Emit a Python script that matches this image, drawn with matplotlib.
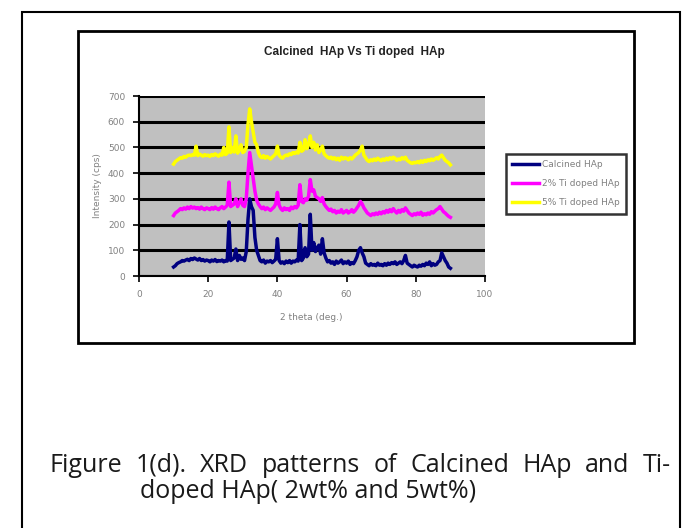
import numpy as np
import matplotlib.pyplot as plt
from matplotlib.patches import Rectangle

# 2 theta grid (deg.), 0.5 deg step from 10 to 90
two_theta = np.arange(10.0, 90.01, 0.5)

calcined = [
    35, 40, 48, 52, 55, 60, 58, 62, 65, 60,
    68, 64, 70, 66, 62, 68, 60, 64, 58, 62,
    60, 55, 62, 58, 64, 56, 60, 58, 62, 55,
    60, 58, 210, 60, 65, 70, 105, 60, 80, 65,
    70, 60, 95, 220, 300, 270, 255, 150, 100, 80,
    60, 55, 62, 50, 58, 55, 60, 52, 58, 65,
    145, 60, 50, 55, 48, 58, 52, 60, 50, 58,
    55, 62, 58, 200, 60, 70, 110, 75, 85, 240,
    100, 130, 95, 110, 120, 85, 145, 90, 70, 55,
    60, 50, 55, 45, 58, 50, 55, 62, 48, 55,
    50, 58, 45, 52, 48, 60, 75, 100, 110, 90,
    75, 50, 45, 40, 48, 42, 45, 40, 50, 42,
    45, 40, 48, 42, 50, 45, 52, 48, 55, 45,
    50, 55, 48, 60, 80, 50, 45, 40, 35, 42,
    38, 35, 42, 38, 45, 40, 50, 45, 55, 40,
    48, 42, 45, 55, 60, 90, 75, 60, 50, 35,
    30,
]

ti_2 = [
    235, 245, 250, 255, 262, 258, 265, 260, 268, 262,
    270, 264, 268, 262, 266, 260, 268, 262, 258, 265,
    262, 258, 266, 260, 268, 262, 258, 265, 270, 262,
    268, 275, 365, 270, 275, 280, 300, 270, 285, 300,
    275, 270, 300, 400, 480, 430, 380, 330, 295, 280,
    270, 262, 268, 258, 265, 260, 255, 262, 268, 280,
    325, 275, 262, 255, 265, 258, 262, 255, 268, 262,
    270, 265, 275, 355, 290, 285, 300, 295, 310, 375,
    330, 335, 310, 305, 300, 290, 305, 280, 270, 262,
    255, 260, 250, 255, 245, 252, 248, 258, 245, 250,
    255, 245, 250, 258, 248, 255, 265, 275, 290, 280,
    265, 255, 245, 240, 235, 242, 238, 245, 240, 248,
    242, 250, 245, 255, 248, 258, 250, 262, 252, 245,
    255, 248, 258, 252, 265, 255, 245, 240, 235, 242,
    238, 245, 240, 248, 236, 242, 238, 245, 240, 250,
    245, 252, 258, 262, 270, 260, 250, 245, 238, 232,
    228,
]

ti_5 = [
    435, 445, 450, 455, 460, 458, 465, 462, 468, 470,
    468, 472, 470, 505, 468, 474, 470, 466, 472, 468,
    470, 465, 472, 468, 475, 470, 466, 474, 470, 500,
    472, 478, 580, 480, 500, 482, 545, 478, 490, 510,
    480, 485, 500, 590, 650, 600, 560, 520, 510, 480,
    465, 460, 468, 458, 465, 460, 455, 462, 468, 475,
    505, 470, 462, 458, 466, 470, 468, 475, 472, 480,
    476, 482, 478, 520, 485, 490, 530, 495, 510, 545,
    500, 520, 490, 510, 480, 490, 505, 475, 468, 462,
    458, 462, 455, 460, 452, 458, 450, 462, 455, 460,
    458, 452, 460, 455, 462, 470, 475, 480, 490, 505,
    470, 460, 450, 445, 452, 448, 455, 450, 458, 452,
    448, 455, 450, 458, 452, 460, 455, 462, 458, 450,
    455, 452, 460, 455, 462, 450, 445, 440, 438, 442,
    440, 445, 440, 448, 442, 450, 445, 452, 448, 455,
    450, 455, 460, 455, 465, 470, 460, 450, 445, 440,
    432,
]

labels = ['Calcined HAp', '2% Ti doped HAp', '5% Ti doped HAp']
colors = ['#000080', '#FF00FF', '#FFFF00']
caption_1 = 'Figure 1(d). XRD patterns of Calcined HAp and Ti-'
caption_2 = 'doped HAp( 2wt% and 5wt%)'

W, H = 688, 528
fig = plt.figure(figsize=(W / 100, H / 100), dpi=100)


def fx(px):
    return px / W


def fy(py):
    return 1 - py / H


# outer frame and chart frame
fig.patches.append(Rectangle((fx(22), fy(540)), fx(680) - fx(22), fy(12) - fy(540),
                             transform=fig.transFigure, fill=False, ec='black', lw=1.5))
fig.patches.append(Rectangle((fx(78), fy(343)), fx(634) - fx(78), fy(31) - fy(343),
                             transform=fig.transFigure, fill=False, ec='black', lw=2))

ax = fig.add_axes([fx(139), fy(276), fx(485) - fx(139), fy(96) - fy(276)])
ax.set_facecolor('#C0C0C0')
for y, c, lab in zip([calcined, ti_2, ti_5], colors, labels):
    ax.plot(two_theta, y, color=c, lw=2.5, label=lab)

ax.set_xlim(0, 100)
ax.set_ylim(0, 700)
ax.set_xticks(range(0, 101, 20))
ax.set_yticks(range(0, 701, 100))
ax.yaxis.grid(True, color='black', lw=2.2)
ax.set_axisbelow(True)
for s in ['top', 'right']:
    ax.spines[s].set_visible(False)
for s in ['left', 'bottom']:
    ax.spines[s].set_linewidth(1.5)
ax.tick_params(direction='out', length=4, width=1.2, labelsize=6.5,
               labelcolor='#808080', pad=6)

fig.text(fx(354), fy(52), 'Calcined  HAp Vs Ti doped  HAp', ha='center', va='center',
         fontsize=8.5, fontweight='bold', family='Liberation Sans', color='#222222')
fig.text(fx(98), fy(186), 'Intensity (cps)', rotation=90, ha='center', va='center',
         fontsize=6.5, color='#808080')
fig.text(fx(311), fy(318), '2 theta (deg.)', ha='center', va='center',
         fontsize=6.5, color='#808080')

leg = fig.legend(loc='upper left', bbox_to_anchor=(fx(506), fy(154)), fontsize=6.5,
                 frameon=True, fancybox=False, shadow=False, handlelength=3.0,
                 handletextpad=0.3, borderpad=0.7, labelspacing=1.1, borderaxespad=0)
leg.get_frame().set_edgecolor('black')
leg.get_frame().set_linewidth(1.8)
for t in leg.get_texts():
    t.set_color('#808080')

# caption, first line justified between x=50 and x=671
cap_font = ['Open Sans', 'DejaVu Sans']
cap_size = 18
fig.canvas.draw()
renderer = fig.canvas.get_renderer()
words = caption_1.split(' ')
word_texts = [fig.text(0, fy(465), w, ha='left', va='center', fontsize=cap_size,
                       family=cap_font, color='#1a1a1a') for w in words]
widths = [t.get_window_extent(renderer).width for t in word_texts]
gap = (621 - sum(widths)) / (len(words) - 1)
x = 50
for t, w in zip(word_texts, widths):
    t.set_x(fx(x))
    x += w + gap
fig.text(fx(140), fy(492), caption_2, ha='left', va='center', fontsize=cap_size,
         family=cap_font, color='#1a1a1a')

fig.savefig('out.png', dpi=100)
